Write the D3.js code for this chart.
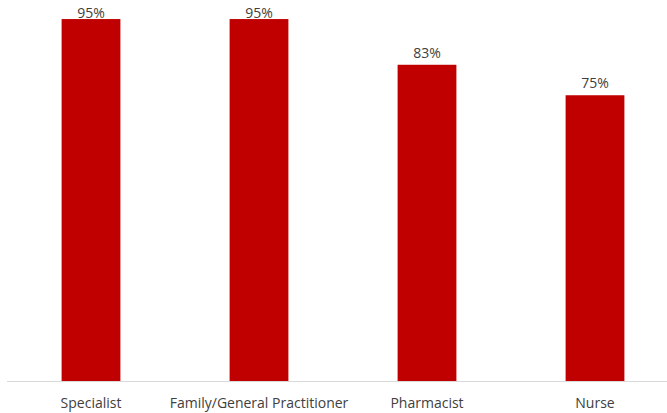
<!DOCTYPE html>
<html>
<head>
<meta charset="utf-8">
<script src="https://cdn.jsdelivr.net/npm/d3@7"></script>
<style>
  html, body { margin: 0; padding: 0; background: #fff; }
  svg { display: block; }
  text { font-family: "Open Sans", "Noto Sans", sans-serif; }
</style>
</head>
<body>
<svg id="chart" width="667" height="413"></svg>
<script>
// Share of respondents by provider type
const categories = ["Specialist", "Family/General Practitioner", "Pharmacist", "Nurse"];
const values = [95, 95, 83, 75];

const width = 667, height = 413;
const baseline = 381;

const svg = d3.select("#chart");

const x = d3.scaleBand()
  .domain(categories)
  .range([7, 679])
  .paddingInner(0.65)
  .paddingOuter(0.325);

const y = d3.scaleLinear()
  .domain([0, 100])
  .range([baseline, 0]);

const data = categories.map((c, i) => ({ c, v: values[i] }));

// Bars
svg.append("g")
  .selectAll("rect")
  .data(data)
  .join("rect")
  .attr("x", d => x(d.c))
  .attr("y", d => y(d.v))
  .attr("width", x.bandwidth())
  .attr("height", d => baseline - y(d.v))
  .attr("fill", "#C00000");

// Category axis
const xAxis = svg.append("g")
  .attr("transform", `translate(0,${baseline})`)
  .call(d3.axisBottom(x).tickSize(0).tickPadding(0));
xAxis.select(".domain").remove();
xAxis.append("line")
  .attr("x1", 7).attr("x2", width)
  .attr("y1", 0.5).attr("y2", 0.5)
  .attr("stroke", "#d9d9d9").attr("stroke-width", 1);
xAxis.selectAll(".tick text")
  .attr("dy", null)
  .attr("y", 27)
  .attr("fill", "#404040")
  .style("font-size", "14px");

// Value labels
svg.append("g")
  .selectAll("text")
  .data(data)
  .join("text")
  .attr("x", d => x(d.c) + x.bandwidth() / 2)
  .attr("y", d => Math.max(y(d.v) - 7, 17.5))
  .attr("text-anchor", "middle")
  .attr("fill", "#404040")
  .style("font-size", "14px")
  .text(d => d.v + "%");
</script>
</body>
</html>
